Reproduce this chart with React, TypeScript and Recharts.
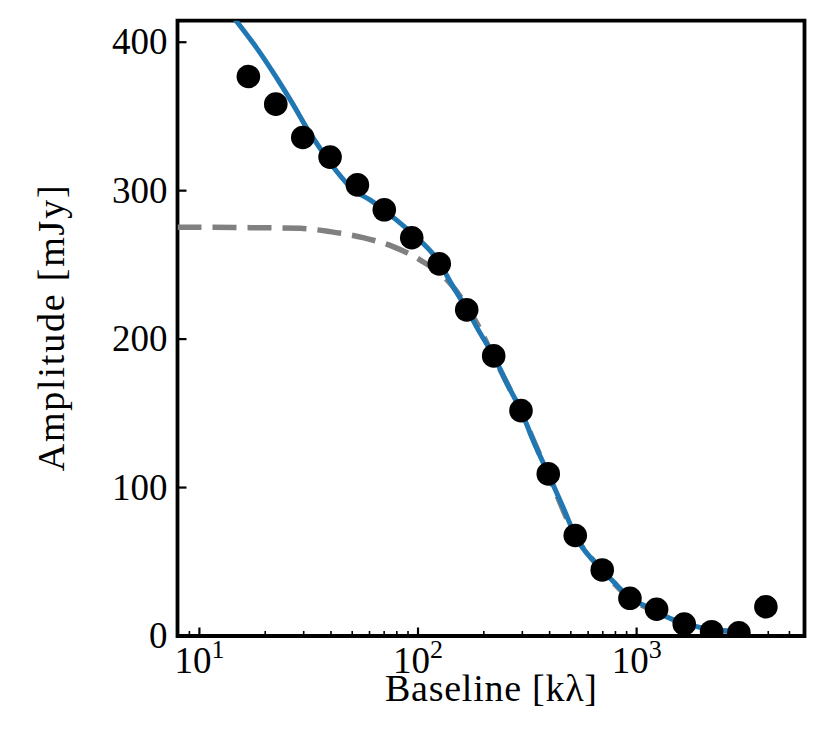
import { ComposedChart, Line, Scatter, XAxis, YAxis, ReferenceArea, Label } from 'recharts'

// observed visibilities
const baselineObs = [16.75, 22.35, 29.71, 39.6, 52.8, 70.1, 93.6, 125.1, 167.0, 221.9, 295.8, 394.3, 523.9, 696.1, 932.0, 1234, 1651, 2203, 2937, 3902]
const amplitudeObs = [376.9, 358.3, 335.8, 322.6, 303.9, 287.1, 268.3, 250.7, 219.7, 188.7, 151.8, 109.2, 67.7, 44.5, 25.4, 18.0, 8.1, 2.9, 2.2, 19.7]

// total model (blue)
const modelBaseline = [12.5, 14.7, 18.3, 22.6, 26.9, 31.0, 35.6, 42.5, 50.6, 60.3, 74.5, 91.9, 124.7, 144.5, 167.0, 192.1, 221.9, 254.4, 295.8, 335.7, 394.3, 460.3, 523.9, 696, 810, 932, 1072, 1234, 1419, 1651, 1882, 2203, 2579, 2967]
const modelAmp = [428, 414.6, 396.0, 375.8, 357.8, 342.1, 328.6, 312.9, 300.5, 293.8, 283.7, 272.4, 252.0, 235.4, 220.4, 204.2, 188.7, 170.5, 151.8, 132.1, 109.2, 86.9, 67.7, 44.5, 34.4, 25.6, 20.9, 16.4, 11.9, 8.1, 6.3, 4.0, 3.4, 3.2]

// compact component (grey dashed)
const compBaseline = [7.94, 17.06, 28.9, 39.6, 56.0, 76.9, 102.1, 140.1, 185.5, 221.9, 295.8, 394.3, 523.9, 696, 932, 1234, 1651, 2203, 2967]
const compAmp = [275.4, 275.1, 274.6, 272.4, 268.4, 262.3, 253.4, 237.7, 210.9, 188.0, 151.0, 108.8, 67.4, 44.3, 25.4, 16.3, 8.0, 3.9, 3.1]

const xTicks = [9, 10, 20, 30, 40, 50, 60, 70, 80, 90, 100, 200, 300, 400, 500, 600, 700, 800, 900, 1000, 2000, 3000, 4000, 5000]
const xTickExp: Record<number, string> = { 10: '1', 100: '2', 1000: '3' }
const yTicks = [0, 100, 200, 300, 400]

const X_MIN = 7.94
const X_MAX = 5860
const Y_MAX = 414.5

const FONT = '"Liberation Serif", "DejaVu Serif", serif'

const obsData = baselineObs.map((b, i) => ({ b, amp: amplitudeObs[i] }))
const modelData = modelBaseline.map((b, i) => ({ b, amp: modelAmp[i] }))
const compData = compBaseline.map((b, i) => ({ b, amp: compAmp[i] }))

function XTick(props: any) {
  const { x, y, payload } = props
  const exp = xTickExp[payload.value]
  return (
    <g>
      <line x1={x} x2={x} y1={y} y2={y - (exp ? 8.5 : 5)} stroke="#000" strokeWidth={exp ? 2.2 : 1.6} />
      {exp && (
        <text x={x} y={y + 37} textAnchor="middle" fontFamily={FONT} fontSize={37} fill="#000">
          10<tspan fontSize={26} dy={-15}>{exp}</tspan>
        </text>
      )}
    </g>
  )
}

function YTick(props: any) {
  const { x, y, payload } = props
  return (
    <g>
      <line x1={x} x2={x + 9} y1={y} y2={y} stroke="#000" strokeWidth={2.2} />
      <text x={x - 10} y={y + 12} textAnchor="end" fontFamily={FONT} fontSize={37} fill="#000">
        {payload.value}
      </text>
    </g>
  )
}

function XTitle(props: any) {
  const { x, y, width } = props.viewBox
  return (
    <text x={x + width / 2} y={y + 65} textAnchor="middle" fontFamily={FONT} fontSize={38}
      textLength={212} lengthAdjust="spacing" fill="#000">
      Baseline [kλ]
    </text>
  )
}

function YTitle(props: any) {
  const { y, height } = props.viewBox
  const cx = 56
  const cy = y + height / 2
  return (
    <text x={cx} y={cy} transform={`rotate(-90 ${cx} ${cy})`} textAnchor="middle" fontFamily={FONT} fontSize={38}
      textLength={286} lengthAdjust="spacing" fill="#000">
      Amplitude [mJy]
    </text>
  )
}

export default function App() {
  return (
    <ComposedChart width={804} height={733} margin={{ top: 12.7, right: 7.5, bottom: 0, left: 0 }}>
      <XAxis
        dataKey="b"
        type="number"
        scale="log"
        domain={[X_MIN, X_MAX]}
        allowDataOverflow
        ticks={xTicks}
        interval={0}
        height={105}
        tickSize={0}
        tickMargin={0}
        axisLine={false}
        tickLine={false}
        tick={<XTick />}
      >
        <Label content={<XTitle />} />
      </XAxis>
      <YAxis
        dataKey="amp"
        type="number"
        domain={[0, Y_MAX]}
        allowDataOverflow
        ticks={yTicks}
        interval={0}
        width={169.5}
        tickSize={0}
        tickMargin={0}
        axisLine={false}
        tickLine={false}
        tick={<YTick />}
      >
        <Label content={<YTitle />} />
      </YAxis>
      <Line
        data={compData}
        dataKey="amp"
        type="monotone"
        stroke="#808080"
        strokeWidth={5.5}
        strokeDasharray="24 11"
        dot={false}
        activeDot={false}
        isAnimationActive={false}
      />
      <Line
        data={modelData}
        dataKey="amp"
        type="monotone"
        stroke="#1f77b4"
        strokeWidth={5}
        dot={false}
        activeDot={false}
        isAnimationActive={false}
      />
      <Scatter data={obsData} dataKey="amp" fill="#000" shape={(p: any) => <circle cx={p.cx} cy={p.cy} r={11.8} fill="#000" />} isAnimationActive={false} />
      <ReferenceArea x1={X_MIN} x2={X_MAX} y1={0} y2={Y_MAX} fill="none" fillOpacity={0} stroke="#000" strokeWidth={3.8} ifOverflow="visible" />
    </ComposedChart>
  )
}
